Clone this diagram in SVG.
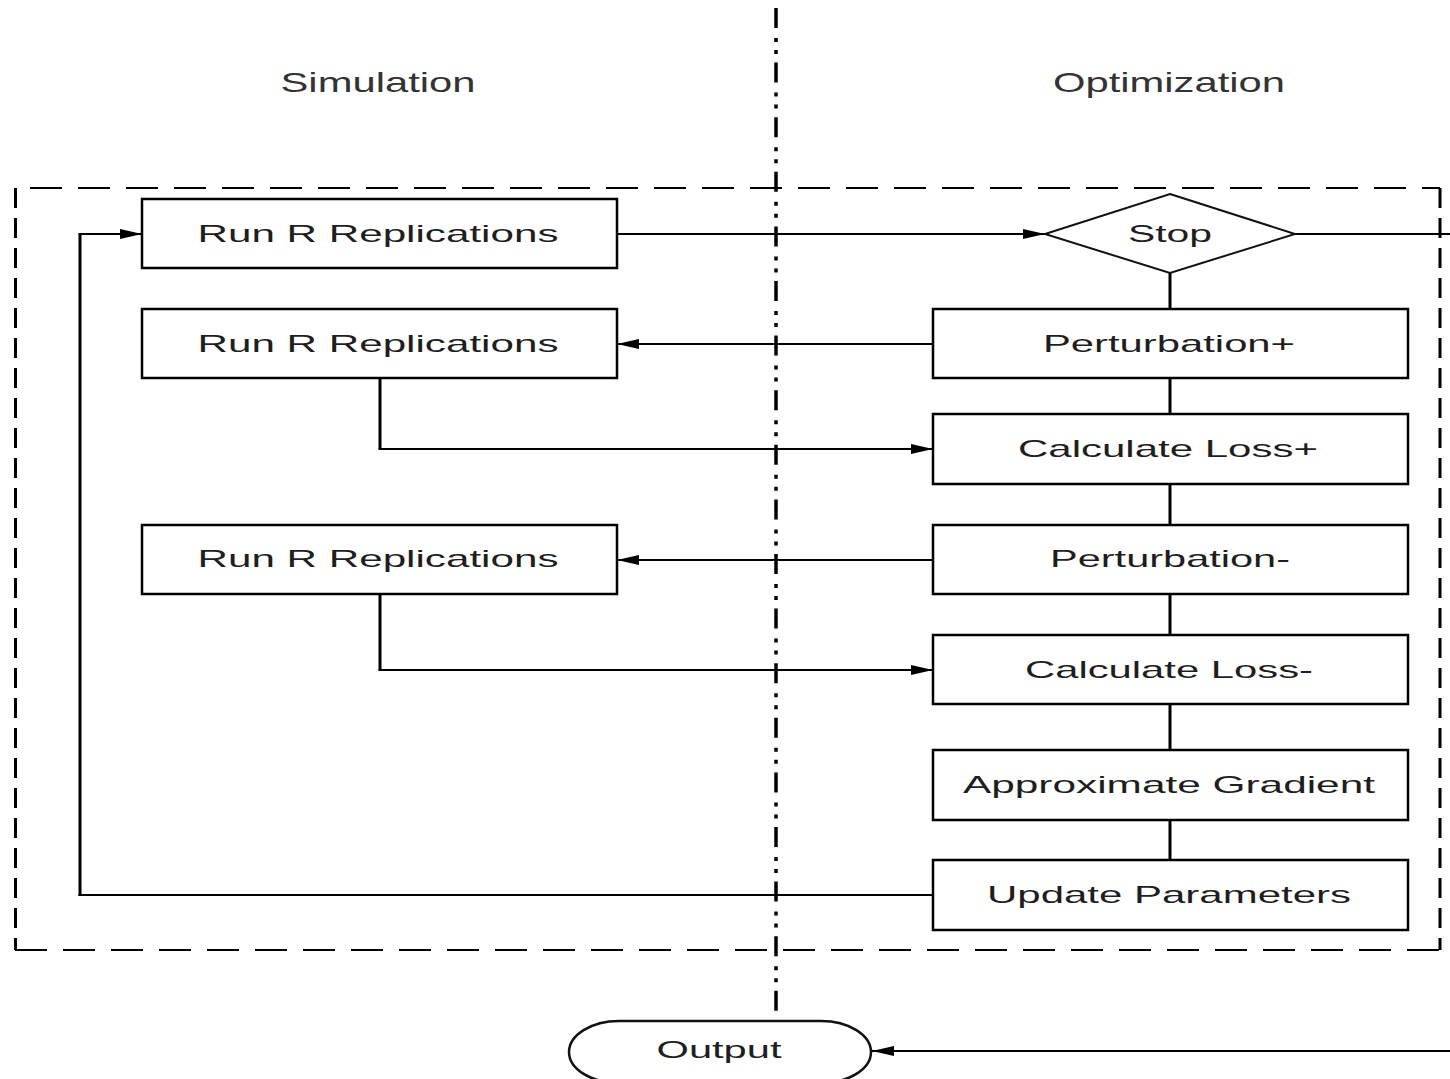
<svg xmlns="http://www.w3.org/2000/svg" width="1450" height="1079" viewBox="0 0 1450 1079">
<style>
text{font-family:"Liberation Sans",Arial,sans-serif;fill:#1e1e1e;text-anchor:middle}
.title{font-size:28px;fill:#333}
.lbl{font-size:24px}
.box{fill:#fff;stroke:#000;stroke-width:2.5}
.c{fill:none;stroke:#000;stroke-width:2}
.v{fill:none;stroke:#000;stroke-width:3}
.bh{stroke:#000;stroke-width:2;stroke-dasharray:32 16}
.bv{stroke:#000;stroke-width:3;stroke-dasharray:20 10}
</style>
<defs>
<marker id="ah" markerWidth="24" markerHeight="12" refX="22" refY="5" orient="auto" markerUnits="userSpaceOnUse">
<path d="M0,0 L22,5 L0,10 Z" fill="#000"/>
</marker>
</defs>
<rect width="1450" height="1079" fill="#fff"/>
<g id="lanes">
<line x1="776" y1="8" x2="776" y2="1012" stroke="#000" stroke-width="3.5" stroke-dasharray="20 10 4 8 4 8.6"/>
<text class="title" x="378" y="92" textLength="195" lengthAdjust="spacingAndGlyphs">Simulation</text>
<text class="title" x="1169" y="92" textLength="232" lengthAdjust="spacingAndGlyphs">Optimization</text>
</g>
<g id="boundary">
<line class="bh" x1="30" y1="188" x2="1440" y2="188"/>
<line class="bh" x1="15" y1="950" x2="1440" y2="950"/>
<line class="bv" x1="15.5" y1="188" x2="15.5" y2="950"/>
<line class="bv" x1="1440" y1="188" x2="1440" y2="950"/>
</g>
<g id="connectors">
<line class="c" x1="617" y1="234" x2="1045" y2="234" marker-end="url(#ah)"/>
<line class="c" x1="1295" y1="234" x2="1450" y2="234"/>
<line class="v" x1="1170" y1="273" x2="1170" y2="309"/>
<line class="c" x1="933" y1="344" x2="617" y2="344" marker-end="url(#ah)"/>
<line class="v" x1="1170" y1="378" x2="1170" y2="414"/>
<path class="v" d="M380,378 V449"/>
<line class="c" x1="378.5" y1="449" x2="933" y2="449" marker-end="url(#ah)"/>
<line class="v" x1="1170" y1="484" x2="1170" y2="525"/>
<line class="c" x1="933" y1="560" x2="617" y2="560" marker-end="url(#ah)"/>
<line class="v" x1="1170" y1="594" x2="1170" y2="635"/>
<path class="v" d="M380,594 V670"/>
<line class="c" x1="378.5" y1="670" x2="933" y2="670" marker-end="url(#ah)"/>
<line class="v" x1="1170" y1="704" x2="1170" y2="750"/>
<line class="v" x1="1170" y1="820" x2="1170" y2="860"/>
<line class="c" x1="933" y1="895" x2="78.5" y2="895"/>
<path class="v" d="M80,896 V234"/>
<line class="c" x1="78.5" y1="234" x2="142" y2="234" marker-end="url(#ah)"/>
<line class="c" x1="1450" y1="1051" x2="872" y2="1051" marker-end="url(#ah)"/>
</g>
<g id="run1"><rect class="box" x="142" y="199" width="475" height="69"/><text class="lbl" x="378" y="242" textLength="361" lengthAdjust="spacingAndGlyphs">Run R Replications</text></g>
<g id="run2"><rect class="box" x="142" y="309" width="475" height="69"/><text class="lbl" x="378" y="352" textLength="361" lengthAdjust="spacingAndGlyphs">Run R Replications</text></g>
<g id="run3"><rect class="box" x="142" y="525" width="475" height="69"/><text class="lbl" x="378" y="567" textLength="361" lengthAdjust="spacingAndGlyphs">Run R Replications</text></g>
<g id="stop"><path d="M1170,194 L1295,234 L1170,273 L1045,234 Z" fill="#fff" stroke="#111" stroke-width="2"/><text class="lbl" x="1170" y="242" textLength="84" lengthAdjust="spacingAndGlyphs">Stop</text></g>
<g id="pertplus"><rect class="box" x="933" y="309" width="475" height="69"/><text class="lbl" x="1169" y="352" textLength="252" lengthAdjust="spacingAndGlyphs">Perturbation+</text></g>
<g id="lossplus"><rect class="box" x="933" y="414" width="475" height="70"/><text class="lbl" x="1168" y="457" textLength="300" lengthAdjust="spacingAndGlyphs">Calculate Loss+</text></g>
<g id="pertminus"><rect class="box" x="933" y="525" width="475" height="69"/><text class="lbl" x="1170" y="567" textLength="240" lengthAdjust="spacingAndGlyphs">Perturbation-</text></g>
<g id="lossminus"><rect class="box" x="933" y="635" width="475" height="69"/><text class="lbl" x="1169" y="678" textLength="288" lengthAdjust="spacingAndGlyphs">Calculate Loss-</text></g>
<g id="gradient"><rect class="box" x="933" y="750" width="475" height="70"/><text class="lbl" x="1169" y="793" textLength="412" lengthAdjust="spacingAndGlyphs">Approximate Gradient</text></g>
<g id="update"><rect class="box" x="933" y="860" width="475" height="70"/><text class="lbl" x="1169" y="903" textLength="364" lengthAdjust="spacingAndGlyphs">Update Parameters</text></g>
<g id="output"><rect x="569" y="1021" width="302" height="62" rx="50" ry="31" fill="#fff" stroke="#111" stroke-width="2.5"/><text class="lbl" x="719" y="1058" textLength="125" lengthAdjust="spacingAndGlyphs">Output</text></g>
</svg>
